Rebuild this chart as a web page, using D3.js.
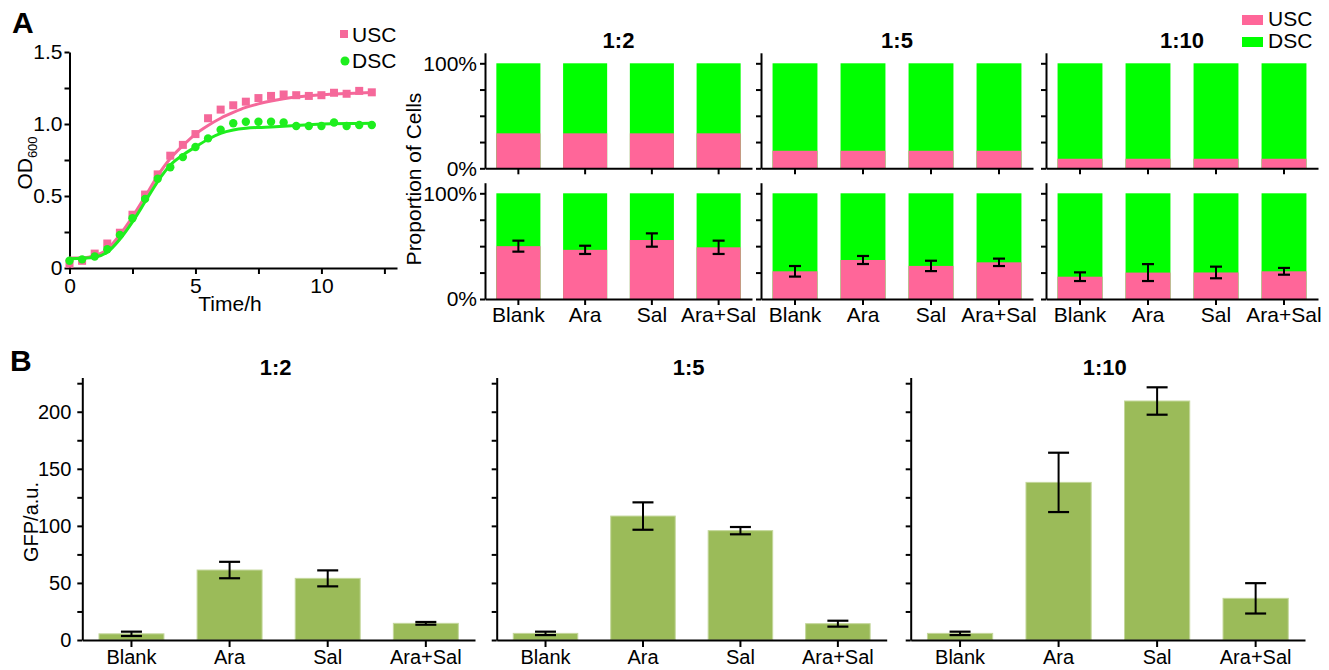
<!DOCTYPE html>
<html><head><meta charset="utf-8">
<script src="https://cdn.jsdelivr.net/npm/d3@7"></script>
<style>body{margin:0;background:#fff} text{font-family:"Liberation Sans",Arial,sans-serif}</style>
</head><body><svg id="c" width="1329" height="670"></svg>
<script>
// ---------- data ----------
const times   = [0,0.5,1,1.5,2,2.5,3,3.5,4,4.5,5,5.5,6,6.5,7,7.5,8,8.5,9,9.5,10,10.5,11,11.5,12];
const uscOD   = [0.03,0.05,0.10,0.17,0.245,0.37,0.51,0.65,0.78,0.855,0.93,1.04,1.10,1.13,1.155,1.18,1.195,1.205,1.20,1.195,1.20,1.217,1.21,1.23,1.22];
const dscOD   = [0.05,0.06,0.08,0.13,0.23,0.345,0.48,0.62,0.70,0.77,0.84,0.90,0.96,1.005,1.016,1.016,1.016,1.01,0.986,0.986,0.986,1.01,0.986,0.993,0.993];
const uscFit  = [0.07,0.07,0.085,0.13,0.23,0.355,0.495,0.64,0.76,0.85,0.93,0.99,1.04,1.08,1.115,1.14,1.16,1.175,1.187,1.196,1.203,1.208,1.212,1.215,1.218];
const dscFit  = [0.065,0.068,0.075,0.11,0.2,0.32,0.46,0.6,0.715,0.785,0.84,0.894,0.935,0.958,0.97,0.976,0.98,0.985,0.99,0.995,1.0,1.002,1.003,1.004,1.005];

const conditions = ["Blank","Ara","Sal","Ara+Sal"];
const ratios     = ["1:2","1:5","1:10"];
const initialUSC = [[0.333,0.333,0.333,0.333],[0.167,0.167,0.167,0.167],[0.091,0.091,0.091,0.091]];
const finalUSC   = [[0.50,0.465,0.558,0.489],[0.262,0.369,0.313,0.347],[0.211,0.25,0.251,0.262]];
const finalErr   = [[0.052,0.039,0.063,0.063],[0.05,0.038,0.049,0.035],[0.041,0.08,0.055,0.032]];

const gfp    = [[5.4,61.3,54,14.6],[5.8,108.6,95.8,14.3],[5.8,138.1,209.4,36.5]];
const gfpErr = [[1.9,7.2,7,1.2],[1.5,12,3.2,2.6],[1.5,26,12,13.3]];

const odTicks   = [0,0.25,0.5,0.75,1,1.25,1.5];
const odLabels  = {0:"0",0.5:"0.5",1:"1.0",1.5:"1.5"};
const tTicks    = [0,2.5,5,7.5,10,12.5];
const tLabels   = {0:"0",5:"5",10:"10"};
const pctTicks  = [0,0.25,0.5,0.75,1];
const pctLabels = {0:"0%",1:"100%"};
const gfpTicks  = [0,25,50,75,100,125,150,175,200,225];
const gfpLabels = {0:"0",50:"50",100:"100",150:"150",200:"200"};

// ---------- style ----------
const PINK="#FF6699", GREEN="#00FF00", MPINK="#F5689A", MGREEN="#1EEE1E", OLIVE="#9BBB59";
const FONT='"Liberation Sans",Arial,sans-serif';
const svg=d3.select("#c");
svg.append("rect").attr("width",1329).attr("height",670).attr("fill","#fff");

function styleAxis(g,fs){
  g.attr("font-family",FONT).attr("font-size",fs);
  g.selectAll("path,line").attr("stroke","#000").attr("stroke-width",2);
  g.selectAll("text").attr("fill","#000");
}
function txt(x,y,s,fs,anchor,weight){
  return svg.append("text").attr("x",x).attr("y",y).text(s).attr("font-size",fs)
    .attr("text-anchor",anchor||"start").attr("font-weight",weight||"normal").attr("fill","#000");
}

// ---------- panel A: growth ----------
txt(12,33,"A",30,"start","bold");
const gx=d3.scaleLinear().domain([0,13]).range([69.5,397]);
const gy=d3.scaleLinear().domain([0,1.5]).range([268,52]);
svg.append("g").attr("transform","translate(0,268)")
  .call(d3.axisBottom(gx).tickValues(tTicks).tickFormat(d=>tLabels[d]||"").tickSize(6).tickSizeOuter(0).tickPadding(4))
  .call(g=>styleAxis(g,21));
svg.append("g").attr("transform","translate(69.5,0)")
  .call(d3.axisLeft(gy).tickValues(odTicks).tickFormat(d=>odLabels[d]||"").tickSize(5).tickSizeOuter(0).tickPadding(2))
  .call(g=>styleAxis(g,21));
const line=(arr)=>d3.line().x((d,i)=>gx(times[i])).y(d=>gy(d)).curve(d3.curveMonotoneX)(arr);
svg.append("path").attr("d",line(uscFit)).attr("fill","none").attr("stroke",MPINK).attr("stroke-width",3);
svg.append("g").selectAll("rect").data(uscOD).join("rect")
  .attr("x",(d,i)=>gx(times[i])-4).attr("y",d=>gy(d)-4).attr("width",8).attr("height",8).attr("fill",MPINK);
svg.append("path").attr("d",line(dscFit)).attr("fill","none").attr("stroke",MGREEN).attr("stroke-width",3);
svg.append("g").selectAll("circle").data(dscOD).join("circle")
  .attr("cx",(d,i)=>gx(times[i])).attr("cy",d=>gy(d)).attr("r",4.2).attr("fill",MGREEN);
txt(230,311,"Time/h",21,"middle");
svg.append("text").attr("transform","translate(32,163) rotate(-90)").attr("text-anchor","middle")
  .attr("font-size",21).attr("fill","#000")
  .call(t=>{t.append("tspan").text("OD");t.append("tspan").attr("dy",5).attr("font-size",13).text("600");});
svg.append("rect").attr("x",340).attr("y",30).attr("width",8).attr("height",8).attr("fill",MPINK);
txt(352,42,"USC",21);
svg.append("circle").attr("cx",345).attr("cy",61).attr("r",4.5).attr("fill",MGREEN);
txt(352,68,"DSC",21);

// ---------- panel A: stacked proportions ----------
const panA=[[485,752],[761,1033],[1046,1318]];
const rowsA=[{y0:168.3,y1:63.3,vals:initialUSC,err:null,labels:false},
             {y0:299,y1:193.3,vals:finalUSC,err:finalErr,labels:true}];
ratios.forEach((r,ri)=>{
  const x=d3.scaleBand().domain(conditions).range(panA[ri]).paddingInner(0.34).paddingOuter(0.17);
  txt((panA[ri][0]+panA[ri][1])/2,48,r,22,"middle","bold");
  rowsA.forEach(row=>{
    const y=d3.scaleLinear().domain([0,1.1]).range([row.y0,row.y0-(row.y0-row.y1)*1.1]);
    const g=svg.append("g");
    g.selectAll(".dsc").data(conditions).join("rect")
      .attr("x",d=>x(d)).attr("width",x.bandwidth()).attr("y",y(1)).attr("height",y(0)-y(1)).attr("fill",GREEN);
    g.selectAll(".usc").data(conditions).join("rect")
      .attr("x",d=>x(d)).attr("width",x.bandwidth())
      .attr("y",(d,i)=>y(row.vals[ri][i])).attr("height",(d,i)=>y(0)-y(row.vals[ri][i])).attr("fill",PINK);
    if(row.err){
      conditions.forEach((c,i)=>{
        const cx=x(c)+x.bandwidth()/2, v=row.vals[ri][i], e=row.err[ri][i];
        g.append("line").attr("x1",cx).attr("x2",cx).attr("y1",y(v-e)).attr("y2",y(v+e)).attr("stroke","#000").attr("stroke-width",2);
        [v-e,v+e].forEach(w=>g.append("line").attr("x1",cx-6).attr("x2",cx+6).attr("y1",y(w)).attr("y2",y(w)).attr("stroke","#000").attr("stroke-width",2.2));
      });
    }
    svg.append("g").attr("transform",`translate(0,${row.y0})`)
      .call(d3.axisBottom(x).tickSize(6).tickSizeOuter(0).tickPadding(2).tickFormat(d=>row.labels?d:""))
      .call(g=>styleAxis(g,21));
    svg.append("g").attr("transform",`translate(${panA[ri][0]},0)`)
      .call(d3.axisLeft(y).tickValues(pctTicks).tickSize(5).tickSizeOuter(0).tickPadding(3)
        .tickFormat(d=>ri===0?(pctLabels[d]||""):""))
      .call(g=>styleAxis(g,21));
  });
});
svg.append("text").attr("transform","translate(421,179) rotate(-90)").attr("text-anchor","middle")
  .attr("font-size",21).attr("fill","#000").text("Proportion of Cells");
svg.append("rect").attr("x",1242).attr("y",15).attr("width",21).attr("height",10).attr("fill",PINK);
txt(1268,26,"USC",21);
svg.append("rect").attr("x",1242).attr("y",37).attr("width",21).attr("height",10).attr("fill",GREEN);
txt(1268,48,"DSC",21);

// ---------- panel B: GFP ----------
txt(10,371,"B",30,"start","bold");
const panB=[[82.3,475],[496.7,886.7],[910.7,1305]];
const by=d3.scaleLinear().domain([0,230]).range([640,377.5]);
ratios.forEach((r,ri)=>{
  const x=d3.scaleBand().domain(conditions).range(panB[ri]).paddingInner(0.338).paddingOuter(0.17);
  txt((panB[ri][0]+panB[ri][1])/2-3,375,r,22,"middle","bold");
  const g=svg.append("g");
  g.selectAll("rect").data(conditions).join("rect")
    .attr("x",d=>x(d)).attr("width",x.bandwidth())
    .attr("y",(d,i)=>by(gfp[ri][i])).attr("height",(d,i)=>by(0)-by(gfp[ri][i]))
    .attr("fill",OLIVE).attr("stroke","#C4D79B").attr("stroke-width",1);
  conditions.forEach((c,i)=>{
    const cx=x(c)+x.bandwidth()/2, v=gfp[ri][i], e=gfpErr[ri][i];
    g.append("line").attr("x1",cx).attr("x2",cx).attr("y1",by(v-e)).attr("y2",by(v+e)).attr("stroke","#000").attr("stroke-width",2);
    [v-e,v+e].forEach(w=>g.append("line").attr("x1",cx-10.5).attr("x2",cx+10.5).attr("y1",by(w)).attr("y2",by(w)).attr("stroke","#000").attr("stroke-width",2.2));
  });
  svg.append("g").attr("transform","translate(0,640)")
    .call(d3.axisBottom(x).tickSize(7).tickSizeOuter(0).tickPadding(3))
    .call(g=>styleAxis(g,20));
  svg.append("g").attr("transform",`translate(${panB[ri][0]},0)`)
    .call(d3.axisLeft(by).tickValues(gfpTicks).tickSize(5).tickSizeOuter(0).tickPadding(6)
      .tickFormat(d=>ri===0?(gfpLabels[d]||""):""))
    .call(g=>styleAxis(g,20));
});
svg.append("text").attr("transform","translate(38,522) rotate(-90)").attr("text-anchor","middle")
  .attr("font-size",20).attr("fill","#000").text("GFP/a.u.");
</script></body></html>
